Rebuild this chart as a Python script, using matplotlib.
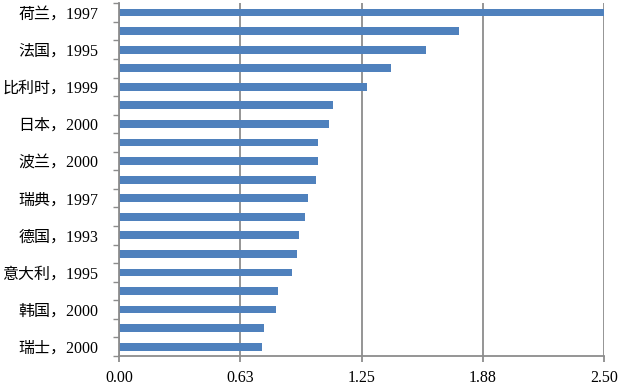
import matplotlib
matplotlib.use('Agg')
import matplotlib.pyplot as plt
import numpy as np

# bar labels (only every other bar is labelled in the source)
labels = ['荷兰，1997', '', '法国，1995', '', '比利时，1999', '', '日本，2000', '',
          '波兰，2000', '', '瑞典，1997', '', '德国，1993', '', '意大利，1995', '',
          '韩国，2000', '', '瑞士，2000']
values = [2.50, 1.75, 1.58, 1.40, 1.28, 1.10, 1.08, 1.025, 1.025, 1.013,
          0.974, 0.958, 0.929, 0.919, 0.891, 0.821, 0.809, 0.747, 0.738]
xticks = [0, 0.625, 1.25, 1.875, 2.5]
xtick_labels = ['0.00', '0.63', '1.25', '1.88', '2.50']

plt.rcParams['font.family'] = ['Liberation Serif', 'Noto Sans CJK SC']
plt.rcParams['font.size'] = 11.5

fig = plt.figure(figsize=(6.21, 3.87), dpi=100)
ax = fig.add_axes([0.1916, 0.0801, 0.9731 - 0.1916, 0.9915 - 0.0801])

y = np.arange(len(values))
ax.barh(y, values, height=0.42, color='#4F81BD', zorder=2)

ax.set_xlim(0, 2.5)
ax.set_ylim(len(values) - 0.5, -0.5)

ax.set_xticks(xticks)
ax.set_xticklabels(xtick_labels)
ax.grid(axis='x', color='#8c8c8c', linewidth=1.3, zorder=0)
ax.set_axisbelow(True)

# category boundaries get the tick marks, labels sit at bar centres
ax.set_yticks(np.arange(-0.5, len(values), 1.0))
ax.set_yticklabels([])
ax.set_yticks(y, minor=True)
ax.set_yticklabels(labels, minor=True)
ax.tick_params(axis='y', which='major', length=4, color='#8c8c8c', width=1)
ax.tick_params(axis='y', which='minor', length=0, pad=15)
ax.tick_params(axis='x', length=4, color='#8c8c8c', width=1.3, pad=6)

for s in ['top', 'right']:
    ax.spines[s].set_visible(False)
for s in ['left', 'bottom']:
    ax.spines[s].set_color('#8c8c8c')
    ax.spines[s].set_linewidth(1.3)

fig.savefig('out.png', dpi=100)
